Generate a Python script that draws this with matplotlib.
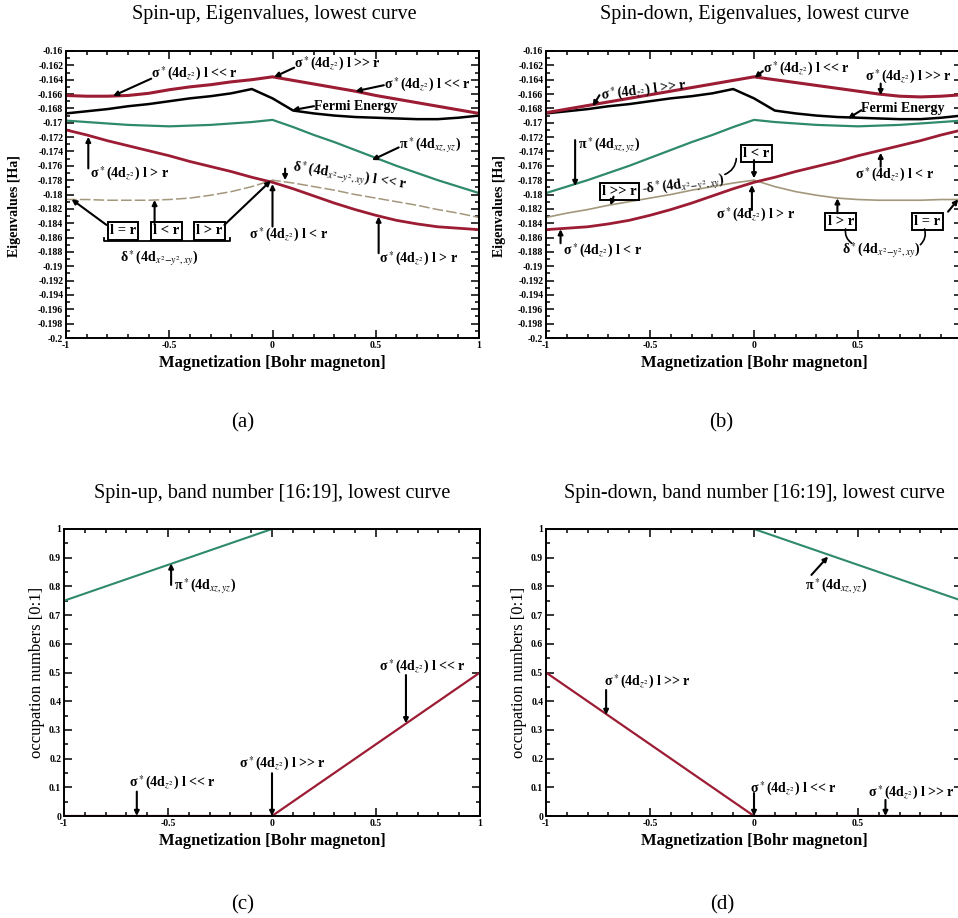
import matplotlib
matplotlib.use('Agg')
import matplotlib.pyplot as plt
from matplotlib.ticker import MultipleLocator, FuncFormatter

plt.rcParams['font.family'] = ['Liberation Serif', 'DejaVu Serif']
plt.rcParams['mathtext.fontset'] = 'stix'

# magnetization grid for the eigenvalue curves
mag = [-1.0, -0.9, -0.8, -0.7, -0.6, -0.5, -0.4, -0.3, -0.2, -0.1, 0.0,
       0.1, 0.2, 0.3, 0.4, 0.5, 0.6, 0.7, 0.8, 0.9, 1.0]

fermi = [-0.1687, -0.1684, -0.1681, -0.1677, -0.1674, -0.1670, -0.1666, -0.1663, -0.1659, -0.1653, -0.1666,
         -0.1683, -0.1687, -0.1690, -0.1692, -0.1693, -0.1694, -0.1695, -0.1695, -0.1693, -0.1690]

# spin-up eigenvalues
up_sigma_top = [-0.1662, -0.1663, -0.1663, -0.1662, -0.1659, -0.1654, -0.1650, -0.1647, -0.1643, -0.1640, -0.1636,
                -0.1641, -0.1646, -0.1651, -0.1656, -0.1662, -0.1667, -0.1672, -0.1677, -0.1682, -0.1687]
up_pi = [-0.1697, -0.1699, -0.1701, -0.1703, -0.1704, -0.1705, -0.1704, -0.1703, -0.1701, -0.1699, -0.1696,
         -0.1706, -0.1717, -0.1727, -0.1738, -0.1749, -0.1760, -0.1770, -0.1780, -0.1789, -0.1798]
up_sigma_low = [-0.1710, -0.1717, -0.1725, -0.1732, -0.1739, -0.1746, -0.1754, -0.1761, -0.1768, -0.1776, -0.1783,
                -0.1792, -0.1802, -0.1812, -0.1821, -0.1829, -0.1836, -0.1841, -0.1845, -0.1847, -0.1849]
up_delta = [-0.1807, -0.1807, -0.1808, -0.1808, -0.1808, -0.1807, -0.1805, -0.1801, -0.1796, -0.1789, -0.1780,
            -0.1784, -0.1789, -0.1794, -0.1800, -0.1805, -0.1810, -0.1815, -0.1821, -0.1826, -0.1832]

# spin-down eigenvalues
dn_sigma_top = [-0.1686, -0.1681, -0.1676, -0.1671, -0.1666, -0.1661, -0.1656, -0.1651, -0.1646, -0.1641, -0.1636,
                -0.1640, -0.1644, -0.1648, -0.1652, -0.1656, -0.1660, -0.1663, -0.1664, -0.1663, -0.1661]
dn_pi = [-0.1798, -0.1789, -0.1780, -0.1770, -0.1760, -0.1749, -0.1738, -0.1727, -0.1717, -0.1706, -0.1696,
         -0.1699, -0.1701, -0.1703, -0.1704, -0.1705, -0.1704, -0.1703, -0.1701, -0.1699, -0.1697]
dn_sigma_low = [-0.1849, -0.1847, -0.1845, -0.1841, -0.1836, -0.1829, -0.1821, -0.1812, -0.1802, -0.1792, -0.1783,
                -0.1776, -0.1768, -0.1761, -0.1754, -0.1746, -0.1739, -0.1732, -0.1725, -0.1717, -0.1710]
dn_delta = [-0.1832, -0.1826, -0.1821, -0.1815, -0.1810, -0.1805, -0.1800, -0.1794, -0.1789, -0.1784, -0.1780,
            -0.1789, -0.1796, -0.1801, -0.1805, -0.1807, -0.1808, -0.1808, -0.1808, -0.1807, -0.1807]

# occupation numbers, band 16:19
occ_mag = [-1.0, 0.0, 1.0]
up_occ_pi = [0.75, 1.0, 1.0]
up_occ_sigma = [0.0, 0.0, 0.5]
dn_occ_pi = [1.0, 1.0, 0.75]
dn_occ_sigma = [0.5, 0.0, 0.0]

RED = '#9c1c34'
GREEN = '#2f8a6c'
TAN = '#a3977c'

SIG_LL = 'σ$^*$(4d$_{z^2}$) l << r'
SIG_GG = 'σ$^*$(4d$_{z^2}$) l >> r'
SIG_L = 'σ$^*$(4d$_{z^2}$) l < r'
SIG_G = 'σ$^*$(4d$_{z^2}$) l > r'
PI = 'π$^*$(4d$_{xz,yz}$)'
DELTA = 'δ$^*$(4d$_{x^2\\!-\\!y^2,xy}$)'

W, H = 958, 918
fig = plt.figure(figsize=(W / 100, H / 100), dpi=100)


def px_axes(left, top, right, bottom):
    return fig.add_axes([left / W, 1 - bottom / H, (right - left) / W, (bottom - top) / H])


def fmt(v, pos):
    s = ('%.3f' % v).rstrip('0').rstrip('.')
    return '0' if s in ('-0', '0') else s


def fmt_cut(v, pos):
    # the right panels run off the page, so the last x label is left out
    return '' if v > 0.99 else fmt(v, pos)


def style(ax, ymin, ymax, ymaj, ymin_step, cut=False):
    ax.set_xlim(-1, 1)
    ax.set_ylim(ymin, ymax)
    ax.xaxis.set_major_locator(MultipleLocator(0.5))
    ax.xaxis.set_minor_locator(MultipleLocator(0.1))
    ax.yaxis.set_major_locator(MultipleLocator(ymaj))
    ax.yaxis.set_minor_locator(MultipleLocator(ymin_step))
    ax.xaxis.set_major_formatter(FuncFormatter(fmt_cut if cut else fmt))
    ax.yaxis.set_major_formatter(FuncFormatter(fmt))
    ax.tick_params(which='both', direction='in', top=True, right=True, labelsize=7, width=1.1, pad=2)
    ax.tick_params(which='major', length=6)
    ax.tick_params(which='minor', length=3)
    plt.setp(ax.get_xticklabels() + ax.get_yticklabels(), fontweight='bold')
    for s in ax.spines.values():
        s.set_linewidth(1.4)
    ax.set_xlabel('Magnetization [Bohr magneton]', fontsize=12, fontweight='bold', labelpad=4)


def note(ax, label, at, tail, tip, size=10, **kw):
    ax.annotate('', xy=tip, xytext=tail,
                arrowprops=dict(arrowstyle='-|>', color='k', lw=1.5, shrinkA=0, shrinkB=0,
                                mutation_scale=7))
    opts = dict(fontsize=size, fontweight='bold', ha='left', va='center')
    opts.update(kw)
    ax.text(at[0], at[1], label, **opts)


def boxed(ax, label, at):
    ax.text(at[0], at[1], label, fontsize=10.5, fontweight='bold', ha='center', va='center',
            bbox=dict(boxstyle='square,pad=0.15', fc='white', ec='k', lw=1.4))


def link(ax, a, b, rad=0.0):
    ax.annotate('', xy=b, xytext=a,
                arrowprops=dict(arrowstyle='-', color='k', lw=1.2, shrinkA=0, shrinkB=0,
                                connectionstyle='arc3,rad=%g' % rad))


# (a) spin-up eigenvalues
ax = px_axes(66, 51, 479, 338)
style(ax, -0.2, -0.16, 0.002, 0.001)
ax.set_ylabel('Eigenvalues [Ha]', fontsize=10, fontweight='bold')
ax.yaxis.set_label_coords(-0.108, 0.46)
ax.plot(mag, up_delta, color=TAN, lw=1.1, dashes=(7, 2))
ax.plot(mag, up_sigma_low, color=RED, lw=2.0)
ax.plot(mag, up_pi, color=GREEN, lw=1.6)
ax.plot(mag, fermi, color='k', lw=1.8)
ax.plot(mag, up_sigma_top, color=RED, lw=2.2)

note(ax, SIG_LL, (-0.587, -0.1632), (-0.587, -0.16385), (-0.772, -0.16626))
note(ax, SIG_GG, (0.105, -0.1618), (0.105, -0.16232), (0.008, -0.16362))
note(ax, SIG_LL, (0.539, -0.16468), (0.539, -0.16477), (0.402, -0.16561))
note(ax, 'Fermi Energy', (0.201, -0.16769), (0.201, -0.16769), (0.096, -0.16825))
note(ax, PI, (0.611, -0.1731), (0.611, -0.17344), (0.482, -0.1752))
note(ax, SIG_G, (-0.884, -0.17715), (-0.892, -0.17636), (-0.892, -0.17196))
note(ax, DELTA + ' l << r', (0.088, -0.1775), (0.061, -0.1764), (0.061, -0.1780), rotation=-9)
note(ax, SIG_L, (-0.113, -0.18563), (0.0, -0.18447), (0.0, -0.17854))
note(ax, SIG_G, (0.514, -0.18902), (0.514, -0.18818), (0.514, -0.18308))
boxed(ax, 'l = r', (-0.723, -0.18508))
boxed(ax, 'l < r', (-0.514, -0.18508))
boxed(ax, 'l > r', (-0.305, -0.18508))
note(ax, '', (0, 0), (-0.804, -0.18424), (-0.973, -0.18067))
note(ax, '', (0, 0), (-0.571, -0.1840), (-0.571, -0.18076))
note(ax, '', (0, 0), (-0.233, -0.18424), (-0.008, -0.17808))
ax.plot([-0.814, -0.814, -0.204, -0.204], [-0.18609, -0.18642, -0.18642, -0.18609], color='k', lw=1.3)
ax.text(-0.547, -0.18888, DELTA, fontsize=10, fontweight='bold', ha='center', va='center')

# (b) spin-down eigenvalues
ax = px_axes(546, 51, 962, 338)
style(ax, -0.2, -0.16, 0.002, 0.001, cut=True)
ax.set_ylabel('Eigenvalues [Ha]', fontsize=10, fontweight='bold')
ax.yaxis.set_label_coords(-0.096, 0.46)
ax.plot(mag, dn_delta, color=TAN, lw=1.2)
ax.plot(mag, dn_sigma_low, color=RED, lw=2.0)
ax.plot(mag, dn_pi, color=GREEN, lw=1.6)
ax.plot(mag, fermi, color='k', lw=1.8)
ax.plot(mag, dn_sigma_top, color=RED, lw=2.2)

note(ax, SIG_GG, (-0.743, -0.16547), (-0.743, -0.16616), (-0.775, -0.16769), rotation=7)
note(ax, SIG_LL, (0.043, -0.16246), (0.043, -0.1628), (0.003, -0.16371))
note(ax, SIG_GG, (0.532, -0.16362), (0.609, -0.16454), (0.609, -0.16616))
note(ax, 'Fermi Energy', (0.516, -0.16802), (0.516, -0.16825), (0.452, -0.16941))
note(ax, PI, (-0.847, -0.17312), (-0.860, -0.17242), (-0.860, -0.17882))
boxed(ax, 'l >> r', (-0.646, -0.17961))
note(ax, '', (0, 0), (-0.675, -0.1803), (-0.69, -0.1815))
ax.text(-0.545, -0.1787, '-' + DELTA, fontsize=10, fontweight='bold', ha='left', va='center', rotation=7)
boxed(ax, 'l < r', (0.011, -0.17428))
link(ax, (-0.14, -0.1772), (-0.085, -0.1750), rad=0.3)
note(ax, '', (0, 0), (0.0, -0.1752), (0.0, -0.17775))
note(ax, SIG_G, (-0.181, -0.18285), (-0.01, -0.18216), (-0.01, -0.17868))
note(ax, SIG_L, (-0.919, -0.18781), (-0.930, -0.18679), (-0.930, -0.18484))
note(ax, SIG_L, (0.484, -0.17729), (0.609, -0.17613), (0.609, -0.17418))
boxed(ax, 'l > r', (0.417, -0.18378))
note(ax, '', (0, 0), (0.401, -0.18262), (0.401, -0.18053))
boxed(ax, 'l = r', (0.834, -0.18378))
note(ax, '', (0, 0), (0.933, -0.18239), (0.982, -0.18067))
ax.text(0.613, -0.18772, DELTA, fontsize=10, fontweight='bold', ha='center', va='center')
link(ax, (0.47, -0.1868), (0.44, -0.1848), rad=-0.3)
link(ax, (0.80, -0.1870), (0.82, -0.1848), rad=0.3)

# (c) spin-up occupation numbers
ax = px_axes(64, 529, 480, 816)
style(ax, 0, 1, 0.1, 0.05)
ax.set_ylabel('occupation numbers [0:1]', fontsize=12, labelpad=3)
ax.plot(occ_mag, up_occ_pi, color=GREEN, lw=1.5)
ax.plot(occ_mag, up_occ_sigma, color=RED, lw=1.6)
note(ax, PI, (-0.469, 0.799), (-0.485, 0.805), (-0.485, 0.880))
note(ax, SIG_LL, (0.516, 0.520), (0.644, 0.491), (0.644, 0.323))
note(ax, SIG_GG, (-0.157, 0.181), (0.0, 0.149), (0.0, 0.0))
note(ax, SIG_LL, (-0.689, 0.114), (-0.65, 0.085), (-0.65, 0.0))

# (d) spin-down occupation numbers
ax = px_axes(546, 529, 962, 816)
style(ax, 0, 1, 0.1, 0.05, cut=True)
ax.set_ylabel('occupation numbers [0:1]', fontsize=12, labelpad=3)
ax.plot(occ_mag, dn_occ_pi, color=GREEN, lw=1.5)
ax.plot(occ_mag, dn_occ_sigma, color=RED, lw=1.6)
note(ax, PI, (0.244, 0.799), (0.276, 0.840), (0.356, 0.904))
note(ax, SIG_GG, (-0.722, 0.468), (-0.711, 0.439), (-0.711, 0.352))
note(ax, SIG_LL, (-0.021, 0.096), (0.0, 0.08), (0.0, 0.0))
note(ax, SIG_GG, (0.55, 0.079), (0.632, 0.056), (0.632, 0.0))

# panel titles and captions
titles = ['Spin-up, Eigenvalues, lowest curve', 'Spin-down, Eigenvalues, lowest curve',
          'Spin-up, band number [16:19], lowest curve', 'Spin-down, band number [16:19], lowest curve']
title_xy = [(274, 15), (755, 15), (272, 493), (754, 493)]
for t, (x, y) in zip(titles, title_xy):
    fig.text(x / W, 1 - y / H, t, fontsize=14.5, ha='center', va='center')

captions = ['(a)', '(b)', '(c)', '(d)']
cap_xy = [(243, 423), (721, 423), (243, 905), (722, 905)]
for t, (x, y) in zip(captions, cap_xy):
    fig.text(x / W, 1 - y / H, t, fontsize=15, ha='center', va='center')

fig.savefig('out.png', dpi=100)
